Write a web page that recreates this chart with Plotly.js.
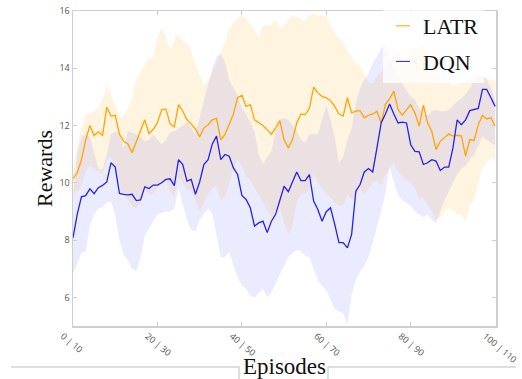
<!DOCTYPE html>
<html>
<head>
<meta charset="utf-8">
<script src="https://cdn.plot.ly/plotly-3.0.1.min.js"></script>
<style>html,body{margin:0;padding:0;background:#fff;}#chart{width:522px;height:379px;}</style>
</head>
<body>
<div id="chart"></div>
<script>
const episodes = [0,1,2,3,4,5,6,7,8,9,10,11,12,13,14,15,16,17,18,19,20,21,22,23,24,25,26,27,28,29,30,31,32,33,34,35,36,37,38,39,40,41,42,43,44,45,46,47,48,49,50,51,52,53,54,55,56,57,58,59,60,61,62,63,64,65,66,67,68,69,70,71,72,73,74,75,76,77,78,79,80,81,82,83,84,85,86,87,88,89,90,91,92,93,94,95,96,97,98,99,100];

const latrMean = [
10.15,10.35,10.8,11.5,12.0,11.65,11.78,11.65,12.64,12.33,
12.36,11.7,11.45,11.36,11.05,11.45,11.86,12.2,11.72,11.86,
12.1,12.55,12.58,12.06,11.95,12.73,12.5,12.2,12.06,11.88,
11.6,11.92,12.03,12.2,12.25,11.5,11.69,12.03,12.4,12.97,
13.06,12.67,12.73,12.2,12.1,12.0,11.85,11.7,11.92,12.17,
11.5,11.22,11.51,12.09,12.4,12.38,12.6,13.34,13.14,13.02,
12.97,12.87,12.67,12.4,12.33,12.97,12.44,12.5,12.52,12.27,
12.36,12.4,12.5,12.09,12.73,12.94,13.2,12.56,12.36,12.56,
12.73,12.44,11.98,12.71,12.09,11.8,11.16,11.45,11.57,11.71,
11.63,11.66,11.63,10.93,11.51,11.48,12.03,12.36,12.23,12.27,
11.98];

const latrUpper = [
10.5,11.3,11.9,12.4,12.45,12.5,12.6,12.9,13.4,13.1,
12.7,12.3,12.3,12.6,13.0,13.6,13.85,14.1,14.4,14.3,
15.1,15.4,15.1,14.6,15.0,15.2,14.9,14.9,14.6,14.1,
13.8,13.4,13.6,13.85,14.2,14.6,14.9,15.4,15.6,15.75,
15.85,15.75,15.55,15.35,15.1,15.5,15.5,15.5,15.7,15.4,
15.5,15.7,15.85,15.8,15.7,15.65,15.85,15.9,15.85,15.85,
15.85,15.45,15.2,15.05,14.9,14.6,14.4,14.15,14.1,13.8,
13.5,13.45,13.75,13.85,14.1,14.3,14.5,14.6,14.3,14.4,
14.6,14.7,14.8,14.85,14.6,14.2,13.8,13.6,13.5,13.5,
13.4,13.4,13.5,13.5,13.6,13.7,13.8,13.75,13.65,13.6,
13.55];

const latrLower = [
9.7,9.7,9.9,10.4,10.6,10.5,10.4,10.3,10.8,10.9,
10.6,10.0,9.6,9.4,9.2,9.1,9.3,9.8,9.6,9.6,
9.8,10.0,10.1,9.7,9.5,10.2,10.0,9.8,9.7,9.4,
9.0,9.3,9.6,9.8,9.9,9.4,9.5,10.0,10.5,10.8,
10.6,10.2,10.1,9.8,9.6,9.3,9.0,8.8,8.9,9.2,
8.6,8.2,8.5,9.3,9.6,9.6,9.8,10.3,10.0,9.8,
9.6,9.5,9.3,9.2,9.2,9.6,9.4,9.6,9.8,9.6,
9.8,10.0,10.1,9.9,10.3,10.5,10.7,10.4,10.2,10.1,
10.0,9.8,9.4,9.5,9.2,9.0,8.7,8.8,9.0,9.1,
9.0,8.9,8.9,8.6,9.2,9.4,10.0,10.5,10.7,10.9,
10.8];

const dqnMean = [
8.08,8.9,9.51,9.55,9.79,9.62,9.83,9.91,10.03,10.7,
10.55,9.63,9.6,9.58,9.6,9.38,9.4,9.86,9.8,9.92,
9.92,10.0,10.12,10.14,9.9,10.81,10.64,10.06,10.12,9.6,
10.03,10.64,10.81,11.36,11.63,10.81,10.99,10.93,10.52,10.29,
9.56,9.42,9.13,8.49,8.6,8.66,8.26,8.66,8.9,9.4,
9.88,9.69,10.06,10.38,10.08,10.08,10.29,9.36,9.07,8.66,
8.99,9.13,8.55,7.91,7.91,7.73,8.2,9.71,9.94,10.38,
10.5,10.38,11.22,12.09,12.4,12.75,12.4,12.09,12.12,12.09,
11.33,11.1,11.08,10.64,10.7,10.81,10.76,10.43,10.55,10.55,
11.22,12.2,12.03,12.2,12.52,12.55,12.6,13.26,13.26,12.97,
12.67];

const dqnUpper = [
9.6,11.0,11.6,11.7,11.6,11.0,10.5,10.45,11.0,11.7,
11.8,11.7,11.2,11.8,11.75,11.7,11.6,11.45,11.5,11.7,
11.5,11.35,11.5,11.75,11.8,11.9,12.0,12.15,11.9,11.7,
12.3,12.9,13.4,14.0,14.4,14.5,14.2,13.6,13.3,13.05,
12.6,12.4,12.1,11.8,11.0,10.65,10.9,11.1,11.8,12.2,
12.27,12.2,12.0,11.8,11.5,11.4,11.7,11.7,11.7,12.2,
12.7,12.2,11.6,10.7,10.9,11.5,11.9,12.8,13.3,13.6,
13.8,14.2,14.4,14.7,14.8,14.4,14.0,13.7,13.45,13.2,
13.0,12.9,12.6,12.4,12.35,12.5,12.55,12.5,12.5,12.55,
12.7,12.85,12.95,13.1,13.3,13.55,13.7,13.75,13.6,13.3,
12.9];

const dqnLower = [
6.8,7.2,7.55,7.6,8.5,8.9,9.1,9.15,9.3,9.35,
8.9,8.0,7.5,7.3,7.0,6.9,7.4,8.15,8.4,8.7,
8.9,8.95,9.0,9.0,9.1,9.8,9.2,8.7,8.35,8.3,
8.7,8.9,9.1,8.95,8.2,7.4,7.4,7.6,7.1,6.7,
6.4,6.3,6.05,6.0,6.15,6.3,6.0,6.15,6.5,6.8,
7.1,7.4,7.55,7.65,7.6,7.45,7.4,7.0,6.6,6.4,
6.25,5.9,5.6,5.5,5.45,5.05,6.1,6.6,6.9,7.1,
7.4,7.9,8.5,9.0,9.6,10.6,10.0,9.6,9.4,9.3,
9.2,9.0,8.9,8.8,8.9,8.7,8.6,9.0,9.4,9.7,
10.0,10.3,10.5,10.6,10.8,11.0,11.3,11.6,11.5,11.4,
11.3];

const seriesNames = ['LATR', 'DQN'];
const tickVals = [0, 20, 40, 60, 80, 100];
const tickText = ['0 | 10', '20 | 30', '40 | 50', '60 | 70', '80 | 90', '100 | 110'];

const orange = 'rgb(255,165,0)';
const blue = 'rgb(35,35,235)';
const clear = 'rgba(0,0,0,0)';
const serif = '"Liberation Serif", "Times New Roman", serif';

const traces = [
  {x: episodes, y: latrLower, mode: 'lines', line: {width: 0, color: clear}, showlegend: false, hoverinfo: 'skip'},
  {x: episodes, y: latrUpper, mode: 'lines', fill: 'tonexty', fillcolor: 'rgba(255,165,0,0.12)', line: {width: 0, color: clear}, showlegend: false, hoverinfo: 'skip'},
  {x: episodes, y: dqnLower, mode: 'lines', line: {width: 0, color: clear}, showlegend: false, hoverinfo: 'skip'},
  {x: episodes, y: dqnUpper, mode: 'lines', fill: 'tonexty', fillcolor: 'rgba(40,40,255,0.095)', line: {width: 0, color: clear}, showlegend: false, hoverinfo: 'skip'},
  {x: episodes, y: latrMean, mode: 'lines', name: seriesNames[0], line: {color: orange, width: 1.3}, showlegend: false},
  {x: episodes, y: dqnMean, mode: 'lines', name: seriesNames[1], line: {color: blue, width: 1.3}, showlegend: false},
  {x: [null], y: [null], mode: 'markers', name: seriesNames[0], legendgroup: 'a', marker: {symbol: 'line-ew-open', size: 10, color: orange, line: {color: orange, width: 1}}},
  {x: [null], y: [null], mode: 'markers', name: seriesNames[1], legendgroup: 'b', marker: {symbol: 'line-ew-open', size: 10, color: blue, line: {color: blue, width: 1}}}
];

const L = 73, R = 26, T = 11, B = 53, W = 522, H = 379;
const pw = W - L - R, ph = H - T - B;
const px = v => (v - L) / pw;
const py = v => (H - B - v) / ph;
const gray = '#bdbdbd';

const layout = {
  width: W, height: H,
  margin: {l: L, r: R, t: T, b: B, autoexpand: false},
  paper_bgcolor: '#fff', plot_bgcolor: '#fff',
  showlegend: true,
  xaxis: {
    range: [0, 100.2], tickvals: tickVals, ticktext: tickText, tickangle: 40,
    ticklabelshift: -10,
    showgrid: false, zeroline: false, showline: true, linecolor: '#cfcfcf', linewidth: 1.5,
    mirror: 'ticks', ticks: 'inside', ticklen: 4, tickcolor: '#cfcfcf',
    tickfont: {size: 9, color: '#555'}, automargin: false,
    title: {text: 'Episodes', font: {family: serif, size: 23, color: '#111'}, standoff: 6}
  },
  yaxis: {
    range: [5, 16], tickvals: [6, 8, 10, 12, 14, 16],
    showgrid: false, zeroline: false, showline: true, linecolor: '#cfcfcf', linewidth: 1.5,
    mirror: 'ticks', ticks: 'inside', ticklen: 4, tickcolor: '#cfcfcf',
    tickfont: {size: 9, color: '#555'}, automargin: false,
    title: {text: 'Rewards', font: {family: serif, size: 22, color: '#111'}, standoff: 0}
  },
  legend: {
    x: px(484), xanchor: 'right', y: py(5), yanchor: 'top',
    bgcolor: 'rgba(255,255,255,0.75)', borderwidth: 0,
    font: {family: serif, size: 22, color: '#111'},
    tracegroupgap: 4
  },
  shapes: [
    {type: 'line', xref: 'paper', yref: 'paper', x0: px(11), x1: px(239), y0: py(367), y1: py(367), line: {color: gray, width: 1}},
    {type: 'line', xref: 'paper', yref: 'paper', x0: px(239), x1: px(239), y0: py(367), y1: py(379), line: {color: gray, width: 1}},
    {type: 'line', xref: 'paper', yref: 'paper', x0: px(328), x1: px(516), y0: py(367), y1: py(367), line: {color: gray, width: 1}},
    {type: 'line', xref: 'paper', yref: 'paper', x0: px(328), x1: px(328), y0: py(367), y1: py(379), line: {color: gray, width: 1}}
  ]
};

Plotly.newPlot('chart', traces, layout, {displayModeBar: false, staticPlot: true});
</script>
</body>
</html>
